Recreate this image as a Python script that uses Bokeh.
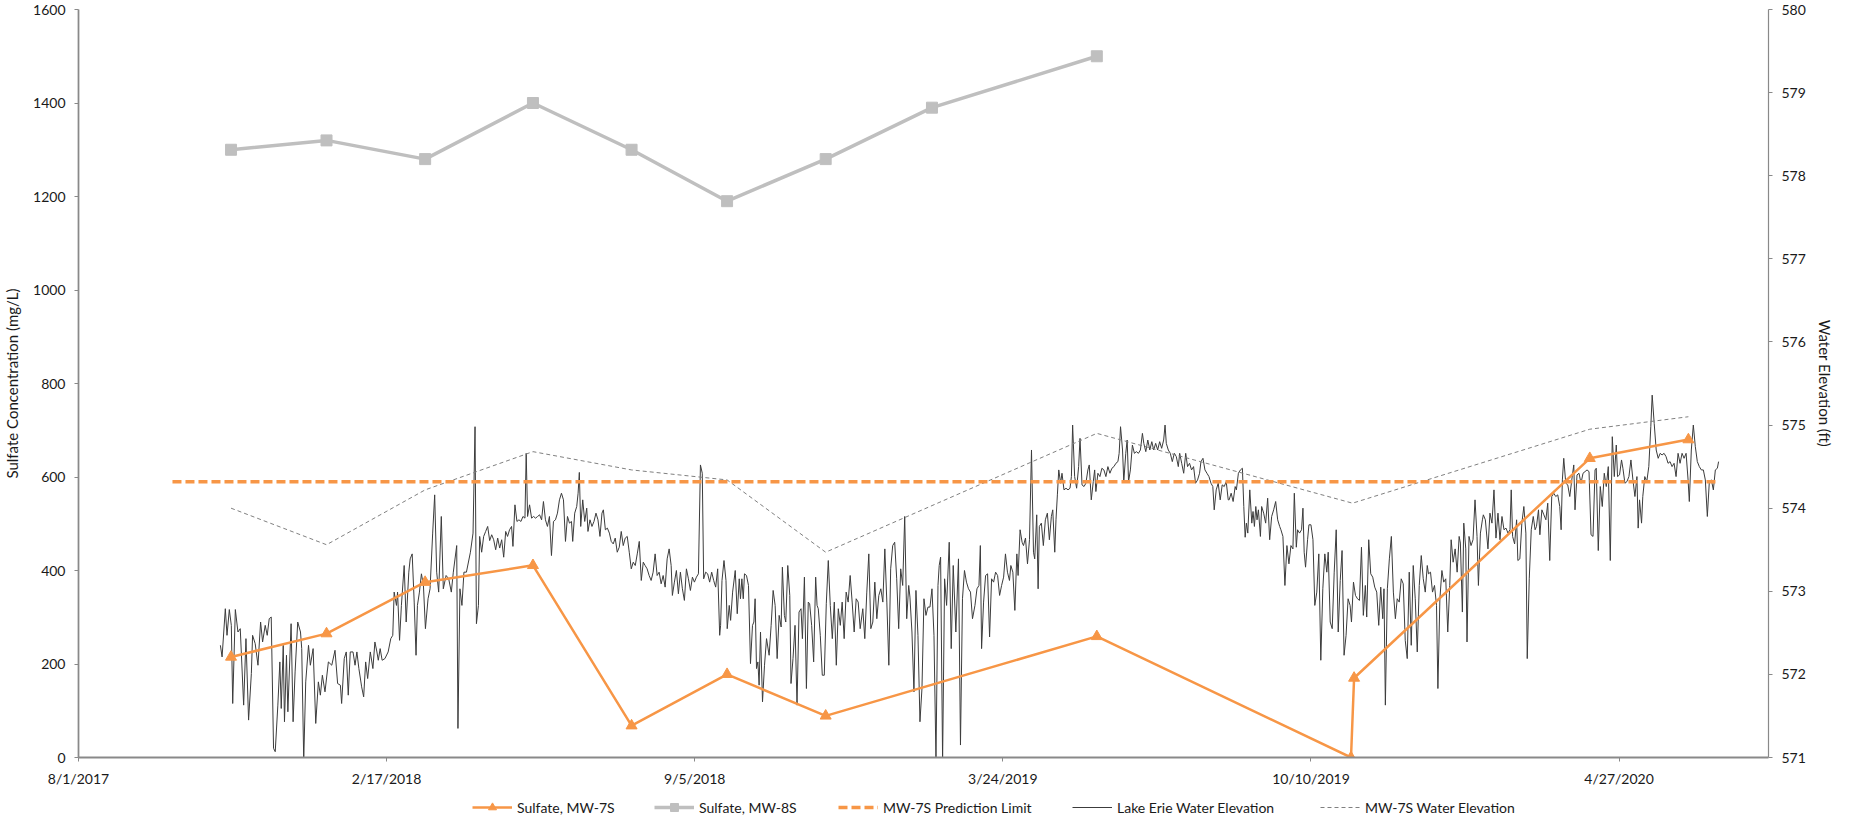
from datetime import date
from bokeh.plotting import figure
from bokeh.layouts import column
from bokeh.models import (Range1d, LinearAxis, FixedTicker, Legend, LegendItem)
from bokeh.embed import file_html
from bokeh.resources import INLINE

# ---------------- data ----------------
ORIGIN = "2017-08-01"
x_tick_labels = ["8/1/2017", "2/17/2018", "9/5/2018", "3/24/2019", "10/10/2019", "4/27/2020"]
x_end = "2020-08-02"

mw7s_dates = ["2017-11-08", "2018-01-09", "2018-03-14", "2018-05-23", "2018-07-26",
              "2018-09-26", "2018-11-29", "2019-05-24", "2019-11-05", "2019-11-07",
              "2020-04-08", "2020-06-11"]
mw7s_sulfate = [215, 265, 375, 411, 68, 178, 89, 259, 0, 170, 640, 680]

mw8s_dates = ["2017-11-08", "2018-01-09", "2018-03-14", "2018-05-23", "2018-07-26",
              "2018-09-26", "2018-11-29", "2019-02-06", "2019-05-24"]
mw8s_sulfate = [1300, 1320, 1280, 1400, 1300, 1190, 1280, 1390, 1500]

limit_dates = ["2017-10-01", "2020-07-01"]
limit_value = [590, 590]

mw7s_wl_dates = ["2017-11-08", "2018-01-09", "2018-03-14", "2018-05-23", "2018-07-26",
                 "2018-09-26", "2018-11-29", "2019-05-24", "2019-11-06", "2020-04-08",
                 "2020-06-11"]
mw7s_wl_ft = [574.00, 573.56, 574.22, 574.68, 574.46, 574.34, 573.47, 574.90, 574.06,
              574.95, 575.10]

# Lake Erie water elevation: days after 8/1/2017 and elevation (ft)
lake_day = [
    92.1, 93.2, 95.3, 96.4, 97.9, 99.2, 100.1, 101.8, 103.5, 105.0, 107.2, 108.7, 110.4, 112.2,
    113.0, 114.7, 116.5, 118.2, 119.5, 121.2, 122.5, 123.8, 125.1, 126.6, 127.7, 129.4, 130.7,
    131.6, 132.9, 133.7, 135.0, 135.9, 138.0, 139.3, 140.6, 142.3, 144.1, 144.9, 146.2, 147.5,
    149.3, 150.5, 152.3, 154.0, 155.7, 157.0, 158.3, 160.0, 162.2, 164.4, 166.5, 168.2, 170.0,
    170.8, 172.5, 173.8, 175.1, 176.4, 178.2, 179.5, 180.7, 182.0, 183.8, 185.1, 186.4, 187.7,
    189.4, 191.1, 192.4, 193.7, 194.6, 195.8, 197.1, 198.9, 201.0, 202.7, 204.0, 204.9, 206.4,
    207.1, 208.4, 209.6, 211.4, 212.7, 214.4, 215.3, 216.6, 217.9, 219.1, 220.0, 221.3, 222.6,
    223.9, 225.2, 226.9, 228.2, 229.9, 231.2, 232.5, 233.8, 235.5, 236.8, 238.6, 240.3, 242.0,
    243.3, 245.5, 246.3, 247.6, 248.9, 250.2,
    251.8, 254.4, 256.1, 257.4, 258.3, 259.6, 260.4, 261.7, 263.0, 264.3, 265.6, 266.9, 268.2,
    269.5, 270.8, 272.1, 273.4, 274.7, 276.0, 277.3, 278.5, 279.8, 281.1, 282.0, 283.3, 284.6,
    285.9, 287.2, 288.5, 289.8, 290.6, 291.5, 292.8, 294.1, 295.4, 296.7, 298.0, 299.3, 300.6,
    301.8, 303.1, 304.4, 305.7, 307.0, 308.3, 309.6, 310.9, 312.2, 313.5, 314.8, 316.1, 317.4,
    318.7, 320.0, 320.8, 322.1, 323.4, 324.3, 325.1, 326.0, 327.3, 328.6, 329.9, 330.7, 332.0,
    333.3, 334.6, 335.9, 337.2, 338.5, 339.8, 340.7, 342.0, 343.3, 344.6, 345.8, 347.1, 348.4,
    349.7, 351.0, 352.3, 353.6, 354.9, 356.2, 357.5, 358.8, 360.1, 361.4, 362.7, 364.0, 365.3,
    366.6, 367.8, 369.1, 370.4, 371.7, 373.0, 374.3, 375.6, 376.9, 378.2, 379.5, 380.8, 382.1,
    383.4, 384.7, 385.5, 386.8, 388.1, 389.4, 390.7, 392.0, 393.3, 394.6, 395.9, 397.2, 398.5,
    399.8, 401.1, 402.4, 403.7, 404.9, 405.8, 407.1, 408.4, 409.7, 411.0, 412.3, 413.6, 414.9,
    416.2,
    416.8, 417.7, 419.0, 420.3, 421.1, 422.4, 423.3, 424.6, 426.3, 427.6, 428.9, 429.7, 430.6,
    431.5, 432.3, 433.6, 434.9, 436.2, 437.5, 438.4, 439.2, 440.1, 441.0, 441.8, 442.7, 444.0,
    445.3, 446.6, 448.3, 449.6, 450.9, 452.2, 453.5, 454.8, 456.1, 456.9, 458.2, 459.1, 460.4,
    461.7, 462.5, 463.8, 465.1, 466.4, 467.7, 469.0, 469.9, 471.2, 472.5, 473.7, 474.6, 475.9,
    477.2, 478.5, 479.4, 480.2, 481.5, 482.8, 484.1, 485.4, 486.7, 488.0, 489.3, 490.6, 491.9,
    493.2, 494.5, 495.7, 497.0, 498.3, 499.6, 500.9, 502.2, 503.5, 504.8, 506.1, 507.4, 509.1,
    510.4, 511.7, 513.0, 514.3, 515.6, 516.9, 518.2, 519.5, 520.8, 522.1, 523.4, 524.7, 526.0,
    527.2, 528.5, 529.8, 531.1, 532.4, 533.7, 535.0, 536.3, 537.6, 538.9, 539.7, 541.0, 542.3,
    543.6, 544.9, 546.2, 547.5, 548.8, 550.1, 551.4, 552.7, 554.0, 555.3, 556.6, 557.9, 558.7,
    559.6, 560.9, 562.2, 563.5, 565.2, 566.5, 567.8, 569.5, 571.2, 572.5, 573.8, 575.1, 576.4,
    577.7, 579.0, 580.3,
    581.9, 583.2, 584.5, 585.4, 586.2, 587.5, 588.8, 590.1, 591.4, 592.7, 594.0, 595.3, 596.6,
    597.9, 599.2, 600.5, 601.7, 603.0, 604.3, 605.2, 606.5, 607.8, 609.1, 609.9, 611.2, 612.5,
    613.4, 614.7, 616.0, 617.3, 618.6, 619.9, 620.7, 622.0, 622.9, 623.7, 625.0, 626.3, 627.6,
    628.9, 630.2, 631.5, 632.4, 633.7, 634.5, 635.4, 636.3, 637.5, 638.4, 639.7, 641.0, 642.3,
    643.6, 644.5, 645.3, 646.6, 647.9, 649.2, 650.1, 651.4, 652.7, 653.9, 655.2, 656.1, 657.4,
    658.7, 659.6, 660.4, 661.7, 663.0, 664.3, 665.6, 666.9, 668.2, 669.5, 670.8, 672.1, 673.4,
    674.7, 675.5, 676.4, 677.7, 678.5, 679.8, 680.7, 681.6, 682.8, 684.1, 685.4, 686.7, 688.0,
    689.3, 690.6, 691.5, 692.8, 694.1, 695.4, 696.7, 697.9, 699.2, 700.5, 701.8, 703.1, 704.4,
    705.3, 706.1, 707.4, 708.7, 710.0, 711.3, 712.6, 713.9, 714.8, 716.1, 717.4, 718.7, 719.9,
    721.2, 722.5, 723.8, 725.1, 726.4, 727.7, 728.6, 729.9, 731.2, 732.5, 733.8, 735.1, 736.3,
    737.2, 738.5, 739.8, 741.1, 742.4, 743.7, 745.0, 746.3,
    746.9, 748.2, 749.5, 750.8, 751.6, 752.9, 754.2, 755.5, 756.4, 757.3, 758.1, 759.0, 760.3,
    761.6, 762.4, 763.3, 764.2, 765.0, 765.9, 767.2, 768.0, 769.3, 770.6, 771.9, 773.2, 774.5,
    775.8, 777.1, 778.4, 779.7, 780.5, 781.8, 783.1, 784.4, 785.7, 787.0, 788.3, 789.2, 790.5,
    791.3, 792.6, 793.9, 794.8, 795.6, 796.5, 797.8, 798.7, 800.0, 801.3, 802.5, 803.8, 805.1,
    806.4, 807.7, 809.0, 810.3, 811.2, 812.5, 813.8, 815.1, 816.4, 817.7, 819.0, 820.2, 821.5,
    822.8, 824.1, 825.4, 826.3, 827.6, 828.9, 830.2, 831.5, 832.8, 834.0, 835.3, 836.2, 837.5,
    838.8, 840.1, 841.4, 842.7, 844.0, 845.3, 846.6, 847.4, 848.3, 849.6, 850.9, 852.2, 853.5,
    854.8, 856.0, 857.3, 858.6, 859.9, 861.2, 862.5, 863.8, 865.1, 866.4, 867.7, 869.0, 870.3,
    871.6, 872.9, 874.2, 875.5, 876.3, 877.6, 878.9, 880.2, 881.5, 882.4, 883.7, 885.0, 886.2,
    887.5, 888.8, 890.1, 891.0, 892.3, 893.6, 894.9, 896.2, 897.0, 898.3, 899.2, 900.5, 901.3,
    902.6, 903.9, 905.2, 906.5, 907.8, 908.7, 910.0, 911.3,
    911.9, 913.2, 914.9, 916.2, 917.5, 918.8, 920.1, 921.4, 922.7, 924.0, 925.3, 926.6, 927.9,
    929.2, 930.0, 930.9, 932.2, 933.5, 934.3, 935.6, 936.9, 938.2, 939.5, 940.4, 941.7, 943.0,
    944.3, 945.5, 946.4, 947.7, 948.6, 949.9, 951.2, 952.5, 953.7, 955.0, 956.3, 957.6, 958.9,
    960.2, 961.5, 962.4, 963.2, 964.1, 965.4, 966.7, 968.0, 969.3, 970.6, 971.4, 972.7, 974.0,
    975.3, 976.6, 977.9, 979.2, 980.5, 981.8, 983.1, 984.4, 985.2, 986.5, 987.8, 989.1, 990.4,
    991.7, 993.0, 994.3, 995.6, 996.9, 998.2, 999.0, 1000.3, 1001.6, 1002.5, 1003.8, 1005.1,
    1006.4, 1007.7, 1009.0, 1010.3, 1011.6, 1012.4, 1013.3, 1014.6, 1015.4, 1016.7, 1018.0,
    1019.3, 1020.6, 1021.5, 1022.8, 1024.1, 1025.4, 1026.7, 1027.9, 1029.2, 1030.5, 1031.8,
    1033.1, 1034.4, 1035.7, 1037.0, 1038.3, 1039.6, 1040.9, 1042.2, 1043.5, 1044.8, 1045.6,
    1046.9, 1048.2, 1049.5, 1050.8, 1052.1, 1053.4, 1054.7, 1056.0, 1057.3, 1058.6, 1059.9,
    1061.2, 1062.5, 1063.8, 1064.6,
]
lake_ft = [
    572.35, 572.21, 572.79, 572.47, 572.78, 572.59, 571.65, 572.78, 572.51, 572.55, 571.63, 572.43,
    571.45, 572.01, 572.47, 572.37, 572.11, 572.63, 572.39, 572.59, 572.47, 572.67, 572.69, 571.11,
    571.07, 571.63, 572.15, 571.59, 572.35, 571.43, 572.23, 571.55, 572.61, 571.43, 572.03, 572.63,
    572.51, 572.31, 570.97, 571.91, 572.35, 572.11, 572.31, 571.41, 571.91, 571.75, 571.99, 571.79,
    572.15, 572.11, 572.29, 571.89, 571.87, 571.65, 572.19, 572.27, 571.75, 572.27, 572.27, 572.11,
    572.27, 572.07, 571.85, 571.73, 572.15, 571.95, 572.27, 572.07, 572.39, 572.27, 572.17, 572.31,
    572.17, 572.19, 572.27, 572.43, 572.47, 572.99, 572.83, 572.99, 572.41, 572.83, 573.31, 572.63,
    573.23, 573.39, 573.45, 572.87, 572.23, 572.83, 572.99, 573.21, 573.07, 572.55, 572.91, 573.03,
    573.70, 574.16, 573.23, 572.99, 573.90, 573.03, 573.19, 573.15, 572.99, 573.23, 573.55, 571.35,
    573.03, 572.83, 573.23,
    573.23, 573.47, 573.70, 574.98, 572.61, 572.83, 573.66, 573.47, 573.66, 573.72, 573.78, 573.61,
    573.68, 573.62, 573.50, 573.64, 573.52, 573.62, 573.41, 573.72, 573.66, 573.74, 573.78, 573.54,
    574.04, 573.84, 573.86, 573.84, 573.90, 573.88, 574.66, 573.90, 574.04, 573.88, 573.90, 573.88,
    573.90, 573.92, 573.86, 574.08, 573.86, 573.78, 573.90, 573.43, 573.84, 573.86, 573.94, 574.10,
    574.18, 574.10, 573.60, 573.90, 573.82, 573.84, 573.60, 573.94, 574.02, 574.18, 574.43, 573.78,
    574.10, 573.84, 574.00, 573.72, 573.86, 573.78, 573.84, 573.94, 573.86, 573.66, 573.94, 573.98,
    573.74, 573.76, 573.70, 573.60, 573.57, 573.64, 573.47, 573.53, 573.72, 573.55, 573.64, 573.66,
    573.47, 573.27, 573.35, 573.31, 573.45, 573.60, 573.13, 573.35, 573.31, 573.27, 573.19, 573.13,
    573.23, 573.45, 573.19, 573.23, 573.09, 573.19, 573.05, 573.39, 573.51, 573.31, 572.95, 573.11,
    573.25, 572.97, 573.23, 573.03, 572.89, 573.27, 573.15, 573.01, 573.17, 573.11, 573.17, 573.21,
    574.52, 574.42, 573.15, 573.23, 573.21, 573.11, 573.23, 573.13, 573.05, 573.27, 572.47,
    572.59, 573.13, 573.37, 573.13, 572.55, 572.83, 572.65, 572.99, 573.25, 572.73, 573.15, 572.91,
    573.15, 572.91, 573.21, 573.19, 573.07, 572.13, 572.59, 572.63, 572.91, 572.07, 572.15, 571.87,
    572.51, 571.67, 572.11, 572.43, 572.23, 572.59, 573.01, 572.83, 572.19, 572.71, 572.57, 573.29,
    572.71, 572.63, 573.31, 572.95, 571.89, 572.19, 572.59, 571.63, 572.75, 572.79, 572.43, 573.17,
    571.83, 572.87, 572.85, 572.59, 572.15, 573.17, 572.83, 572.79, 572.47, 571.99, 571.99, 572.85,
    573.37, 572.83, 572.43, 572.87, 572.11, 572.79, 572.59, 572.87, 572.43, 572.99, 572.87, 573.19,
    572.87, 572.51, 572.91, 572.87, 572.55, 572.79, 572.43, 572.99, 573.45, 572.55, 572.63, 573.11,
    572.67, 572.95, 573.03, 572.87, 573.51, 572.87, 572.11, 573.27, 573.55, 573.59, 573.15, 572.55,
    573.27, 573.07, 573.90, 572.67, 573.07, 572.93, 572.51, 571.79, 573.01, 572.47, 571.43, 571.83,
    572.91, 572.71, 572.81, 572.81, 573.03, 572.47, 570.97, 573.07, 573.31, 573.41, 570.97, 573.15,
    572.83, 573.59, 572.31, 573.31, 572.51, 573.39, 571.15, 572.91, 573.25, 573.11, 573.03, 572.99,
    572.67,
    572.83, 573.03, 573.07, 573.55, 572.31, 572.87, 573.19, 573.21, 572.45, 573.15, 573.11, 573.23,
    573.19, 572.95, 573.07, 573.17, 573.45, 573.23, 573.13, 573.31, 573.23, 572.77, 573.45, 573.19,
    573.74, 573.59, 573.55, 573.64, 573.33, 573.62, 574.70, 573.47, 573.39, 573.92, 573.03, 573.78,
    573.82, 573.55, 573.86, 573.94, 573.62, 573.90, 573.98, 573.47, 573.86, 574.16, 574.46, 574.30,
    574.42, 574.22, 574.24, 574.22, 574.24, 574.38, 575.00, 574.38, 574.24, 574.50, 574.84, 574.28,
    574.26, 574.30, 574.46, 574.52, 574.10, 574.32, 574.46, 574.20, 574.42, 574.38, 574.48, 574.46,
    574.38, 574.50, 574.42, 574.48, 574.50, 574.54, 574.56, 574.66, 574.98, 574.70, 574.32, 574.66,
    574.82, 574.32, 574.46, 574.76, 574.66, 574.68, 574.66, 574.70, 574.90, 574.78, 574.68, 574.82,
    574.70, 574.80, 574.70, 574.78, 574.70, 574.80, 574.72, 574.82, 575.00, 574.78, 574.70, 574.66,
    574.56, 574.66, 574.62, 574.50, 574.66, 574.54, 574.42, 574.66, 574.50, 574.54, 574.46, 574.50,
    574.30, 574.34, 574.42, 574.56, 574.60, 574.46, 574.42, 574.38, 574.30, 574.26, 573.98, 574.22,
    574.30, 574.10, 574.28, 574.26, 574.32, 574.10,
    574.10, 574.18, 574.08, 574.26, 574.22, 574.42, 574.46, 574.48, 574.02, 573.65, 573.82, 573.70,
    574.22, 573.82, 573.96, 573.78, 574.02, 573.86, 573.98, 573.66, 574.02, 573.94, 573.82, 574.12,
    573.62, 573.90, 573.98, 574.08, 573.86, 573.78, 573.74, 573.66, 573.07, 573.55, 573.33, 573.55,
    573.51, 574.18, 573.53, 573.74, 573.70, 573.74, 574.00, 573.47, 573.29, 573.62, 573.80, 573.80,
    573.62, 572.83, 572.99, 573.45, 572.17, 573.03, 573.45, 573.23, 573.47, 572.63, 572.55, 573.23,
    573.74, 572.51, 573.13, 573.49, 572.23, 572.47, 572.91, 572.83, 572.63, 573.11, 572.95, 572.91,
    572.89, 573.53, 572.71, 573.07, 572.69, 573.62, 573.21, 573.17, 573.05, 572.99, 572.59, 573.05,
    572.67, 573.03, 571.63, 573.03, 573.39, 573.66, 572.99, 572.67, 572.91, 572.87, 573.15, 573.09,
    572.41, 572.19, 573.23, 572.35, 573.31, 572.91, 572.27, 573.07, 573.43, 573.15, 572.99, 573.31,
    573.21, 573.23, 572.99, 573.07, 572.83, 571.83, 572.91, 573.25, 573.11, 573.15, 572.51, 573.07,
    573.62, 573.35, 573.51, 573.23, 573.66, 573.58, 572.75, 573.82, 573.51, 572.39, 573.66, 573.55,
    573.62, 574.10, 573.66, 573.07, 573.70, 573.86,
    573.92, 573.86, 573.51, 573.94, 573.82, 574.22, 573.64, 573.94, 573.62, 573.90, 573.74, 573.76,
    573.70, 573.74, 574.22, 573.66, 573.57, 573.86, 573.37, 573.39, 573.82, 574.02, 573.70, 572.19,
    573.15, 573.74, 573.90, 573.74, 573.78, 573.98, 573.68, 573.98, 573.92, 573.86, 574.06, 573.37,
    574.14, 574.18, 574.14, 574.16, 574.02, 573.74, 574.34, 574.60, 574.30, 574.28, 574.14, 574.34,
    574.52, 573.98, 574.40, 574.42, 574.30, 574.42, 574.44, 574.46, 574.44, 573.68, 573.66, 574.46,
    574.48, 573.49, 574.26, 574.02, 574.42, 574.26, 574.50, 573.37, 574.86, 574.38, 574.76, 574.38,
    574.40, 574.58, 574.48, 574.30, 574.32, 574.38, 574.58, 574.34, 574.14, 574.38, 573.76, 574.10,
    573.82, 574.14, 574.38, 574.32, 574.50, 574.98, 575.36, 575.02, 574.70, 574.60, 574.66, 574.64,
    574.66, 574.62, 574.54, 574.56, 574.50, 574.54, 574.38, 574.66, 574.54, 574.66, 574.60, 574.66,
    574.34, 574.08, 574.70, 575.00, 574.74, 574.56, 574.50, 574.46, 574.46, 574.34, 573.90, 574.32,
    574.34, 574.22, 574.46, 574.48, 574.56,
]

legend_labels = ["Sulfate, MW-7S", "Sulfate, MW-8S", "MW-7S Prediction Limit",
                 "Lake Erie Water Elevation", "MW-7S Water Elevation"]

# ---------------- helpers ----------------
def days(s):
    return (date.fromisoformat(s) - date.fromisoformat(ORIGIN)).days

def label_days(lbl):
    m, d, y = (int(v) for v in lbl.split("/"))
    return (date(y, m, d) - date.fromisoformat(ORIGIN)).days

FONT = "Lato"
TXT = "#1a1a1a"
AXC = "#898989"
ORANGE = "#F79646"
GRAY8 = "#BFBFBF"
LAKE_C = "#3c3c3c"
WL_C = "#808080"

x_ticks = [label_days(l) for l in x_tick_labels]

MAIN_H = 789
p = figure(width=1842, height=MAIN_H, output_backend="svg", toolbar_location=None,
           x_range=Range1d(0, days(x_end)), y_range=Range1d(0, 1600),
           min_border_left=73, min_border_right=74, min_border_top=9, min_border_bottom=31)
p.outline_line_color = None
p.grid.visible = False
p.background_fill_color = "white"
p.border_fill_color = "white"
p.extra_y_ranges = {"elev": Range1d(571, 580)}

def style_axis(ax, lw):
    ax.axis_line_color = AXC
    ax.axis_line_width = lw
    ax.major_tick_line_color = AXC
    ax.major_tick_line_width = 1
    ax.major_tick_in = 0
    ax.major_tick_out = 4
    ax.minor_tick_line_color = None
    ax.major_label_standoff = 9
    ax.major_label_text_font = FONT
    ax.major_label_text_font_size = "14px"
    ax.major_label_text_color = TXT
    ax.axis_label_text_font = FONT
    ax.axis_label_text_font_size = "15px"
    ax.axis_label_text_font_style = "normal"
    ax.axis_label_text_color = TXT
    ax.axis_label_standoff = 9

xa = p.xaxis[0]
xa.ticker = FixedTicker(ticks=x_ticks)
xa.major_label_overrides = {t: l for t, l in zip(x_ticks, x_tick_labels)}
style_axis(xa, 2)
xa.major_label_standoff = 8

ya = p.yaxis[0]
ya.ticker = FixedTicker(ticks=list(range(0, 1601, 200)))
ya.axis_label = "Sulfate Concentration (mg/L)"
style_axis(ya, 1.75)

ra = LinearAxis(y_range_name="elev", axis_label="Water Elevation (ft)")
ra.ticker = FixedTicker(ticks=list(range(571, 581)))
style_axis(ra, 1.2)
ra.axis_label_standoff = 7
p.add_layout(ra, "right")

# ---------------- glyphs ----------------
def draw_lake(fig, xs, ys, **kw):
    return fig.line(xs, ys, line_color=LAKE_C, line_width=1, **kw)

def draw_wl(fig, xs, ys, **kw):
    return fig.line(xs, ys, line_color=WL_C, line_width=1, line_dash="4 3", **kw)

def draw_limit(fig, xs, ys):
    return fig.line(xs, ys, line_color=ORANGE, line_width=3.5, line_dash="9 4")

def draw_mw8(fig, xs, ys):
    l = fig.line(xs, ys, line_color=GRAY8, line_width=3.5)
    m = fig.scatter(xs, ys, marker="square", size=11, fill_color=GRAY8, line_color=GRAY8)
    return [l, m]

def draw_mw7(fig, xs, ys):
    l = fig.line(xs, ys, line_color=ORANGE, line_width=2.5)
    m = fig.scatter(xs, ys, marker="triangle", size=11, fill_color=ORANGE, line_color=ORANGE)
    return [l, m]

draw_lake(p, lake_day, lake_ft, y_range_name="elev")
draw_wl(p, [days(d) for d in mw7s_wl_dates], mw7s_wl_ft, y_range_name="elev")
draw_limit(p, [days(d) for d in limit_dates], limit_value)
draw_mw8(p, [days(d) for d in mw8s_dates], mw8s_sulfate)
draw_mw7(p, [days(d) for d in mw7s_dates], mw7s_sulfate)

# ---------------- legend row (separate strip below the chart) ----------------
LH = 817 - MAIN_H
lg = figure(width=1842, height=LH, output_backend="svg", toolbar_location=None,
            x_range=Range1d(0, 1842), y_range=Range1d(0, LH),
            min_border=0, x_axis_location=None, y_axis_location=None)
lg.outline_line_color = None
lg.grid.visible = False

# off-screen placeholder samples so that the legend swatches have something to draw
HX, HY = [-60, -50], [-60, -60]
leg_renderers = [
    draw_mw7(lg, HX, HY),
    draw_mw8(lg, HX, HY),
    [draw_limit(lg, HX, HY)],
    [draw_lake(lg, HX, HY)],
    [draw_wl(lg, HX, HY)],
]
leg_x = [394, 576, 760, 994, 1242]
for lbl, rs, xoff in zip(legend_labels, leg_renderers, leg_x):
    leg = Legend(items=[LegendItem(label=lbl, renderers=rs)], location=(xoff, 0),
                 orientation="horizontal", glyph_width=40, glyph_height=20, label_height=16,
                 label_standoff=5, padding=0, margin=0, spacing=0,
                 border_line_alpha=0, background_fill_alpha=0,
                 label_text_font=FONT, label_text_font_size="14px", label_text_color=TXT)
    lg.add_layout(leg, "center")

open("out.html", "w").write(file_html(column(p, lg, spacing=0), INLINE))
